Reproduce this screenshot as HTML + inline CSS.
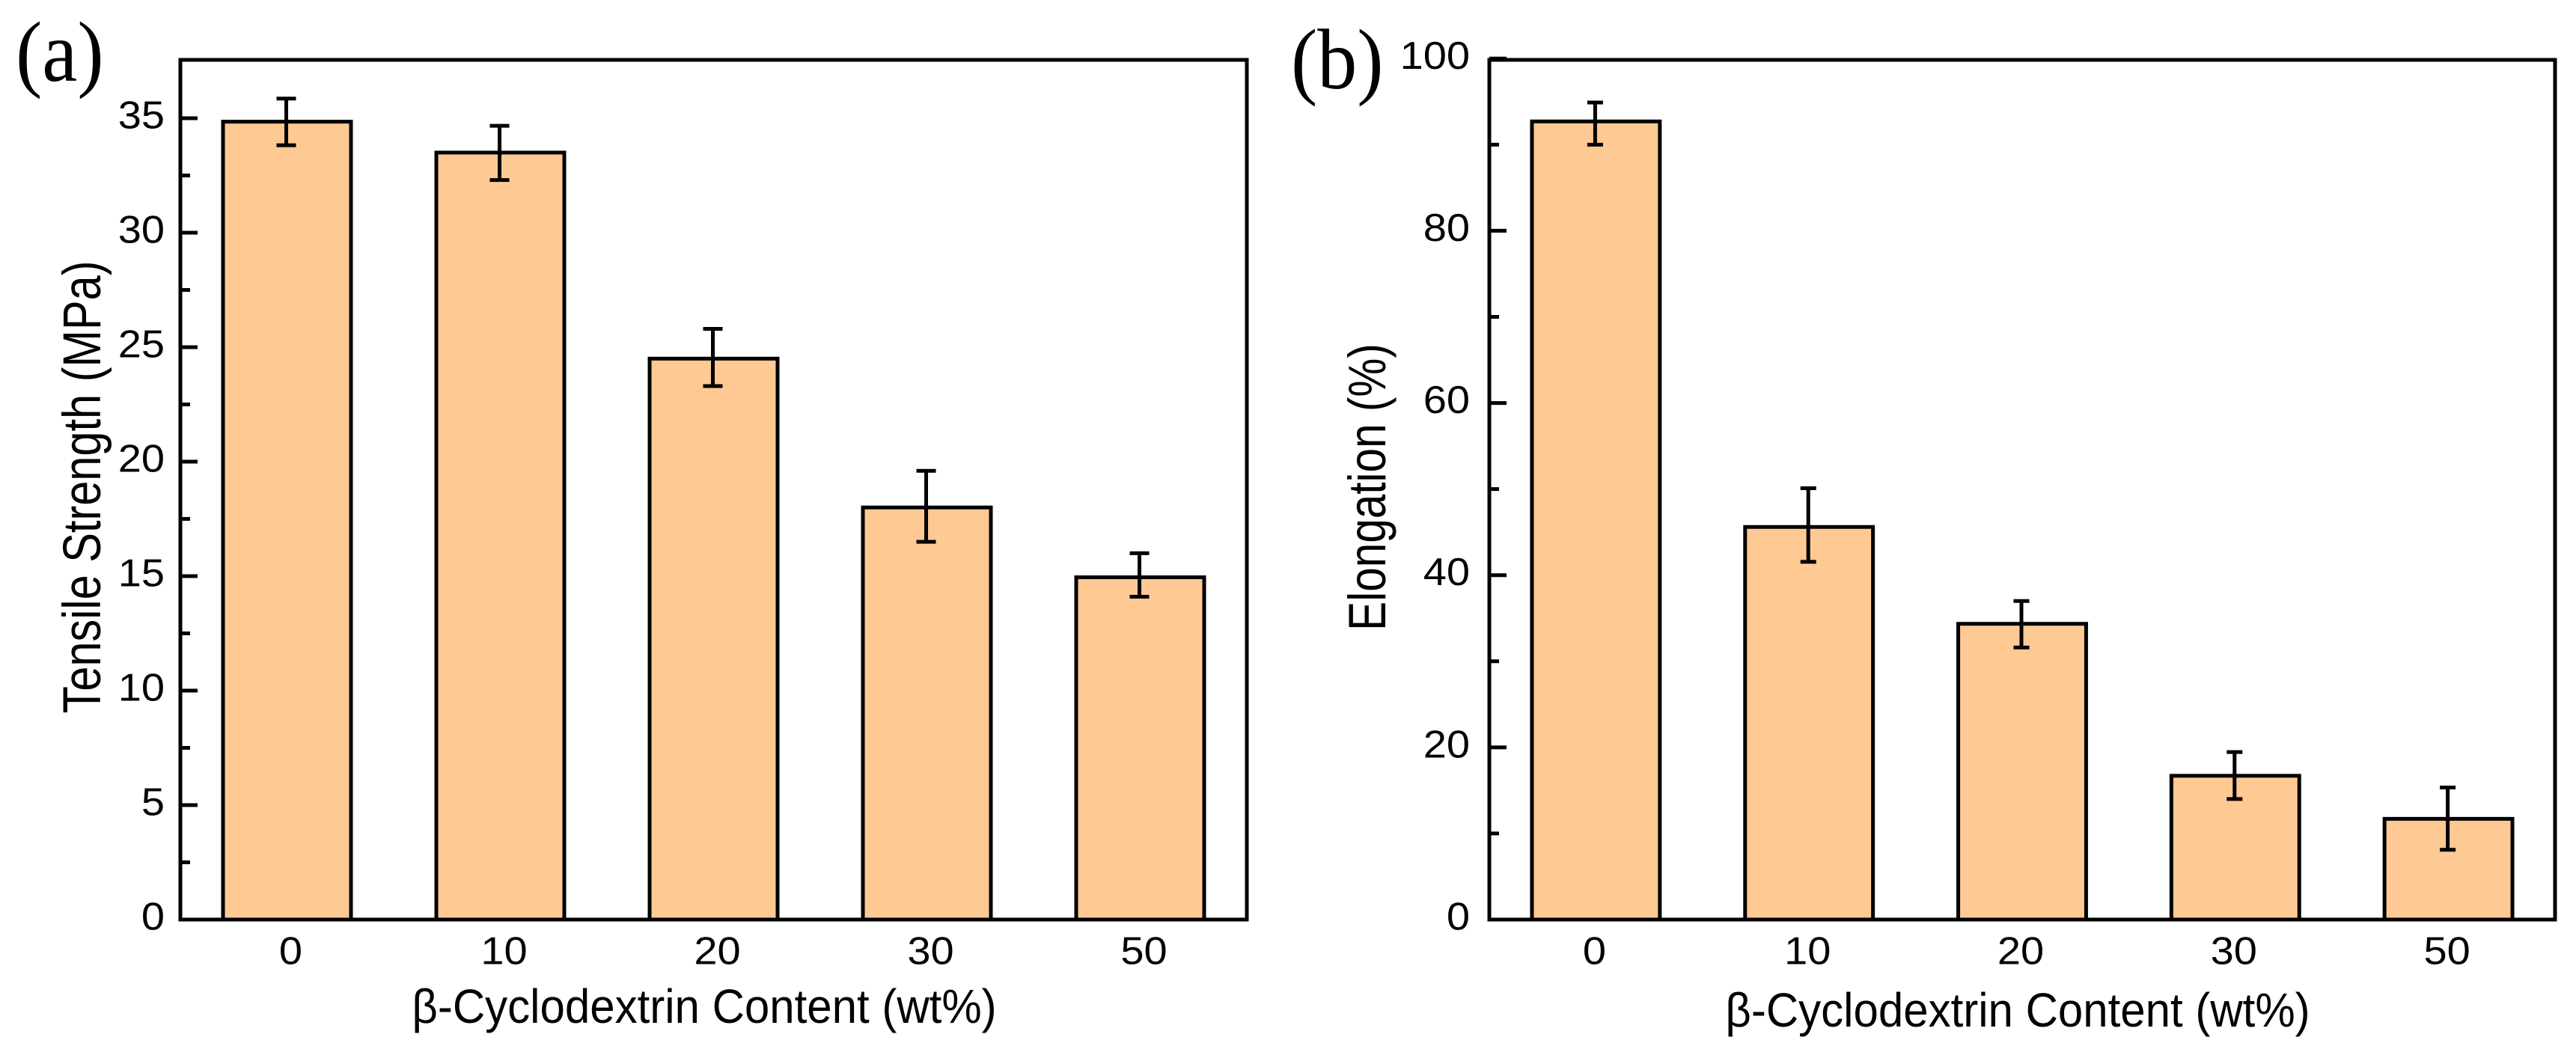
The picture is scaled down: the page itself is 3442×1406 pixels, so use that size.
<!DOCTYPE html>
<html lang="en">
<head>
<meta charset="utf-8">
<title>Tensile strength and elongation vs β-cyclodextrin content</title>
<style>
html,body{margin:0;padding:0;background:#fff;width:3442px;height:1406px;overflow:hidden}
svg{display:block}
text{fill:#000;font-family:"Liberation Sans",Arial,sans-serif}
.serif{font-family:"Liberation Serif","Times New Roman",serif}
</style>
</head>
<body>
<svg id="figure" xmlns="http://www.w3.org/2000/svg" width="3442" height="1406" viewBox="0 0 3442 1406">
  <rect x="0" y="0" width="3442" height="1406" fill="#fff"/>
  <g id="panel-a"></g>
  <g id="panel-b"></g>
  <text class="serif" font-size="106" transform="translate(21,108) scale(1,1.08)">(a)</text>
  <text class="serif" font-size="106" transform="translate(1725,118) scale(1,1.08)">(b)</text>
  <text font-size="59.5" text-anchor="middle" transform="translate(134,651) rotate(-90) scale(1,1.2)">Tensile Strength (MPa)</text>
  <text font-size="58.5" text-anchor="middle" transform="translate(1851,651) rotate(-90) scale(1,1.2)">Elongation (%)</text>
  <text font-size="60" text-anchor="middle" transform="translate(941,1367) scale(1,1.07)">β-Cyclodextrin Content (wt%)</text>
  <text font-size="60" text-anchor="middle" transform="translate(2696,1372) scale(1,1.07)">β-Cyclodextrin Content (wt%)</text>
</svg>
<script>
const categories = ['0', '10', '20', '30', '50'];

const tensileValues = [34.85, 33.5, 24.5, 18.0, 14.95];
const tensileUpper = [35.86, 34.67, 25.8, 19.6, 16.0];
const tensileLower = [33.82, 32.3, 23.3, 16.5, 14.1];
const tensileMajorTicks = [0, 5, 10, 15, 20, 25, 30, 35];
const tensileMinorTicks = [2.5, 7.5, 12.5, 17.5, 22.5, 27.5, 32.5];

const elongationValues = [92.7, 45.6, 34.35, 16.7, 11.7];
const elongationUpper = [94.9, 50.1, 37.0, 19.46, 15.34];
const elongationLower = [90.0, 41.55, 31.6, 14.0, 8.1];
const elongationMajorTicks = [0, 20, 40, 60, 80, 100];
const elongationMinorTicks = [10, 30, 50, 70, 90];

const SVG_NS = 'http://www.w3.org/2000/svg';
const BAR_FILL = '#FFC994';

function makeShape(parent, tag, attrs) {
  const el = document.createElementNS(SVG_NS, tag);
  Object.keys(attrs).forEach(function (k) { el.setAttribute(k, attrs[k]); });
  parent.appendChild(el);
  return el;
}

function drawPanel(parent, geom, values, upper, lower, majorTicks, minorTicks) {
  const step = (geom.right - geom.left) / categories.length;
  const xScale = function (i) { return geom.left + step * (i + 0.5); };
  const yScale = function (v) { return geom.bottom - (v / geom.yMax) * (geom.bottom - geom.top); };
  const barWidth = step * 0.6;

  values.forEach(function (v, i) {
    const bar = makeShape(parent, 'rect', {
      x: xScale(i) - barWidth / 2,
      y: yScale(v),
      width: barWidth,
      height: geom.bottom - yScale(v),
      fill: BAR_FILL,
      stroke: '#000',
      'stroke-width': 5
    });
    
    
  });

  values.forEach(function (v, i) {
    const cx = xScale(i) - 1;
    const yHi = yScale(upper[i]);
    const yLo = yScale(lower[i]);
    const g = makeShape(parent, 'g', { stroke: '#000', 'stroke-width': 5, fill: 'none' });
    
    
    makeShape(g, 'line', { x1: cx, x2: cx, y1: yHi, y2: yLo });
    makeShape(g, 'line', { x1: cx - geom.cap / 2, x2: cx + geom.cap / 2, y1: yHi, y2: yHi });
    makeShape(g, 'line', { x1: cx - geom.cap / 2, x2: cx + geom.cap / 2, y1: yLo, y2: yLo });
  });

  const frame = makeShape(parent, 'rect', {
    x: geom.left,
    y: geom.top,
    width: geom.right - geom.left,
    height: geom.bottom - geom.top,
    fill: 'none',
    stroke: '#000',
    'stroke-width': 5
  });
  
  

  majorTicks.forEach(function (t) {
    const tick = makeShape(parent, 'line', {
      x1: geom.left, x2: geom.left + 23, y1: yScale(t), y2: yScale(t),
      stroke: '#000', 'stroke-width': 5
    });
    
    
    const label = makeShape(parent, 'text', {
      'font-size': 56,
      'text-anchor': 'end',
      transform: 'translate(' + geom.yLabelRight + ',' + (yScale(t) + 13.5) + ') scale(1,0.93)'
    });
    label.textContent = String(t);
    
    
  });

  minorTicks.forEach(function (t) {
    const tick = makeShape(parent, 'line', {
      x1: geom.left, x2: geom.left + 13, y1: yScale(t), y2: yScale(t),
      stroke: '#000', 'stroke-width': 5
    });
    
    
  });

  categories.forEach(function (c, i) {
    const label = makeShape(parent, 'text', {
      'font-size': 56,
      'text-anchor': 'middle',
      transform: 'translate(' + (xScale(i) + geom.xLabelShift) + ',1288.5) scale(1,0.93)'
    });
    label.textContent = c;
    
    
  });
}

drawPanel(document.getElementById('panel-a'),
  { left: 241, right: 1666, top: 80, bottom: 1229, yMax: 37.55, cap: 26, yLabelRight: 220, xLabelShift: 5 },
  tensileValues, tensileUpper, tensileLower, tensileMajorTicks, tensileMinorTicks);

drawPanel(document.getElementById('panel-b'),
  { left: 1990, right: 3414, top: 80, bottom: 1229, yMax: 99.85, cap: 21, yLabelRight: 1964, xLabelShift: -2 },
  elongationValues, elongationUpper, elongationLower, elongationMajorTicks, elongationMinorTicks);
</script>
</body>
</html>
